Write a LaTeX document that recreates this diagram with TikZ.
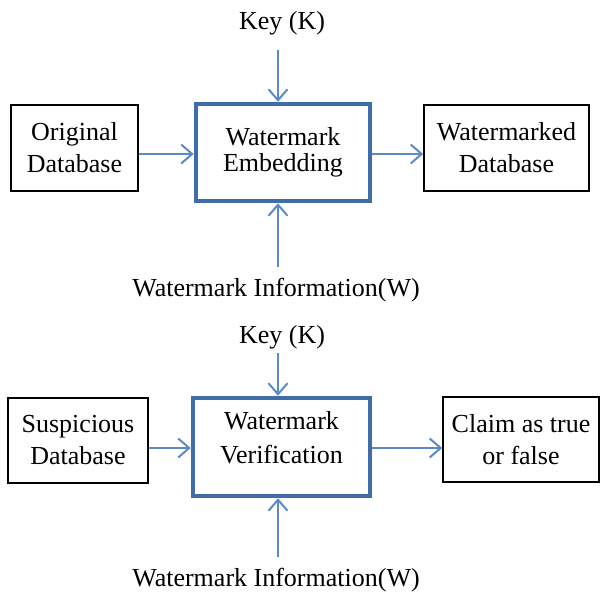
\documentclass[tikz,border=0pt]{standalone}
\usepackage{fontspec}
\setmainfont{Liberation Serif}
\usetikzlibrary{arrows.meta,calc}
\definecolor{arrowblue}{HTML}{5B8AC6}
\definecolor{boxblue}{HTML}{3E6DAA}
\tikzset{
  plainbox/.style={draw=black, line width=1.6pt, inner sep=0pt, align=center,
    font=\fontsize{26}{32}\selectfont},
  mainbox/.style={draw=boxblue, line width=4.5pt, inner sep=0pt, align=center,
    font=\fontsize{26}{32}\selectfont},
  label/.style={inner sep=0pt, font=\fontsize{26}{32}\selectfont},
  flow/.style={draw=arrowblue, line width=2pt, -{Straight Barb[length=11pt,width=19pt,line width=2pt]}}
}
\begin{document}
\begin{tikzpicture}[x=1pt,y=-1pt]
\useasboundingbox (0,0) rectangle (600,592);
% ---- top: embedding ----
\node[plainbox, minimum width=127pt, minimum height=86pt] (orig) at (74.5,148) {Original\\Database};
\node[mainbox, minimum width=174pt, minimum height=97pt] (emb) at (283,152.5) {Watermark\\[-6pt]Embedding};
\node[plainbox, minimum width=165pt, minimum height=86pt] (wdb) at (506.5,148) {Watermarked\\Database};
\node[label] (key1) at (282,23) {Key (K)};
\node[label] (info1) at (276,290) {Watermark Information(W)};
\coordinate (k1) at (278,50);
\coordinate (i1) at (278,267);
\draw[flow] (orig.east |- 0,154) -- (emb.west |- 0,154);
\draw[flow] (emb.east |- 0,154) -- (wdb.west |- 0,154);
\draw[flow] (k1) -- (k1 |- emb.north);
\draw[flow] (i1) -- (i1 |- emb.south);
% ---- bottom: verification ----
\node[plainbox, minimum width=140pt, minimum height=85pt] (susp) at (78,440.5) {Suspicious\\Database};
\node[mainbox, minimum width=177pt, minimum height=98pt] (ver) at (281.5,447) {Watermark\\[2pt]Verification\\[-12pt]};
\node[plainbox, minimum width=156pt, minimum height=85pt] (claim) at (521,439.5) {Claim as true\\or false};
\node[label] (key2) at (282,337) {Key (K)};
\node[label] (info2) at (276,580) {Watermark Information(W)};
\coordinate (k2) at (278,353);
\coordinate (i2) at (278,557);
\draw[flow] (susp.east |- 0,448) -- (ver.west |- 0,448);
\draw[flow] (ver.east |- 0,448) -- (claim.west |- 0,448);
\draw[flow] (k2) -- (k2 |- ver.north);
\draw[flow] (i2) -- (i2 |- ver.south);
\end{tikzpicture}
\end{document}
